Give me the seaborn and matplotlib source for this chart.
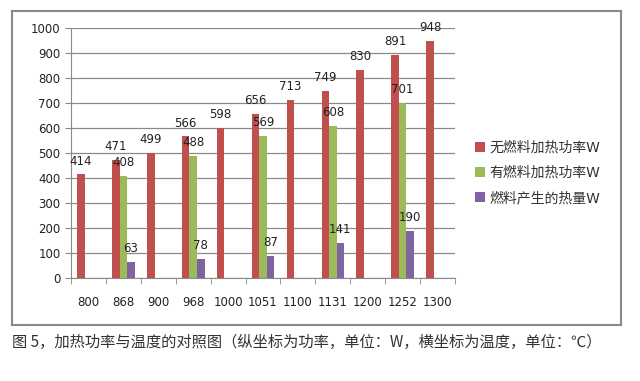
import pandas as pd
import numpy as np
import matplotlib.pyplot as plt
import seaborn as sns
from matplotlib.patches import Rectangle

# === Data ===
temps = ['800', '868', '900', '968', '1000', '1051', '1100', '1131', '1200', '1252', '1300']
no_fuel = [414, 471, 499, 566, 598, 656, 713, 749, 830, 891, 948]
with_fuel = [np.nan, 408, np.nan, 488, np.nan, 569, np.nan, 608, np.nan, 701, np.nan]
fuel_heat = [np.nan, 63, np.nan, 78, np.nan, 87, np.nan, 141, np.nan, 190, np.nan]
series = ['无燃料加热功率W', '有燃料加热功率W', '燃料产生的热量W']
colors = ['#C0504D', '#9BBB59', '#8064A2']

df = pd.DataFrame({'温度': temps * 3,
                   '功率': no_fuel + with_fuel + fuel_heat,
                   '系列': [s for s in series for _ in temps]}).dropna()

sns.set_style('white')
plt.rcParams['font.family'] = ['DejaVu Sans', 'Noto Sans CJK SC']

fig = plt.figure(figsize=(6.4, 3.81), dpi=100)
ax = fig.add_axes([0.111, 0.270, 0.600, 0.657])

sns.barplot(data=df, x='温度', y='功率', hue='系列', order=temps, hue_order=series,
            palette=colors, width=0.65, saturation=1, linewidth=0, ax=ax, zorder=3)

for c in ax.containers:
    ax.bar_label(c, fmt='%d', padding=5, fontsize=8.5, color='#222222')

ax.set_ylim(0, 1000)
ax.set_yticks(range(0, 1001, 100))
ax.set_xlim(-0.5, len(temps) - 0.5)
ax.yaxis.grid(True, color='#8a8a8a', linewidth=0.9, zorder=0)
ax.set_xlabel('')
ax.set_ylabel('')
for s in ['top', 'right']:
    ax.spines[s].set_visible(False)
ax.spines['left'].set_color('#8a8a8a')
ax.spines['bottom'].set_color('#8a8a8a')
ax.tick_params(axis='y', length=4, color='#8a8a8a', labelsize=8.5, labelcolor='#222222', left=True)
ax.tick_params(axis='x', length=0, labelsize=8.5, labelcolor='#222222', pad=13)
# category separator ticks on the bottom axis
ax.set_xticks(np.arange(-0.5, len(temps)), minor=True)
ax.tick_params(axis='x', which='minor', length=4, color='#8a8a8a', bottom=True)

ax.legend(loc='center left', bbox_to_anchor=(1.02, 0.42), frameon=False,
          fontsize=10, handlelength=0.7, handleheight=0.7, handletextpad=0.3,
          labelspacing=0.8, labelcolor='#333333')

fig.patches.append(Rectangle((0.019, 0.147), 0.951, 0.824, transform=fig.transFigure,
                             fill=False, edgecolor='#8a8a8a', linewidth=1.5))
fig.text(0.019, 0.102, '图 5，加热功率与温度的对照图（纵坐标为功率，单位：W，横坐标为温度，单位：℃）',
         fontsize=11, color='#333333', va='center', family=['Noto Sans CJK SC', 'DejaVu Sans'])

fig.savefig('out.png', dpi=100)
